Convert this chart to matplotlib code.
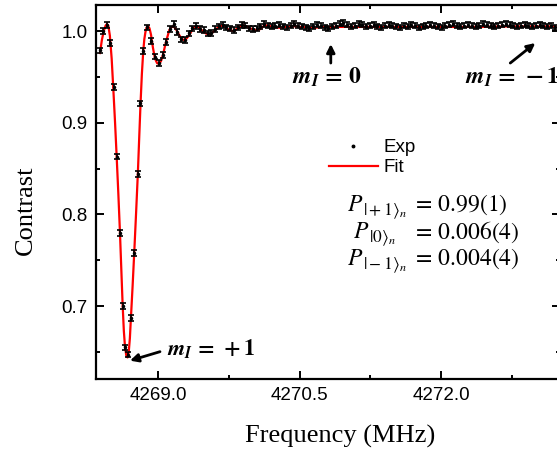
import numpy as np
import matplotlib
matplotlib.use("Agg")
import matplotlib.pyplot as plt
from matplotlib.ticker import MultipleLocator, FormatStrFormatter
from matplotlib.lines import Line2D

plt.rcParams['font.family'] = ['Liberation Sans', 'DejaVu Sans']
plt.rcParams['mathtext.fontset'] = 'stix'

# ---- measured points (Exp) ----
freq_exp = [4268.385, 4268.422, 4268.459, 4268.496, 4268.533, 4268.566, 4268.597, 4268.624,
            4268.648, 4268.677, 4268.711, 4268.748, 4268.784, 4268.814, 4268.846, 4268.885,
            4268.925, 4268.966, 4269.010, 4269.055, 4269.090, 4269.127, 4269.168, 4269.205,
            4269.245, 4269.285, 4269.325, 4269.365, 4269.405, 4269.445, 4269.485, 4269.525,
            4269.565, 4269.605, 4269.645, 4269.685, 4269.725, 4269.765, 4269.805, 4269.845,
            4269.885, 4269.925, 4269.965, 4270.005, 4270.045, 4270.085, 4270.125, 4270.165,
            4270.205, 4270.245,
            4270.285, 4270.325, 4270.365, 4270.405, 4270.445, 4270.485, 4270.525, 4270.565, 4270.605, 4270.645,
            4270.685, 4270.725, 4270.765, 4270.805, 4270.845, 4270.885, 4270.925, 4270.965, 4271.005, 4271.045,
            4271.085, 4271.125, 4271.165, 4271.205, 4271.245, 4271.285, 4271.325, 4271.365, 4271.405, 4271.445,
            4271.485, 4271.525, 4271.565, 4271.605, 4271.645, 4271.685, 4271.725, 4271.765, 4271.805, 4271.845,
            4271.885, 4271.925, 4271.965, 4272.005, 4272.045, 4272.085, 4272.125, 4272.165, 4272.205, 4272.245,
            4272.285, 4272.325, 4272.365, 4272.405, 4272.445, 4272.485, 4272.525, 4272.565, 4272.605, 4272.645,
            4272.685, 4272.725, 4272.765, 4272.805, 4272.845, 4272.885, 4272.925, 4272.965, 4273.005, 4273.045,
            4273.085, 4273.125, 4273.165, 4273.205]
contrast_exp = [0.979, 1.000, 1.0065, 0.987, 0.939, 0.863, 0.780, 0.700,
                0.655, 0.647, 0.687, 0.758, 0.844, 0.921, 0.978, 1.004,
                0.989, 0.972, 0.965, 0.974, 0.988, 1.002, 1.0076, 0.999,
                0.991, 0.9905, 0.9975, 1.003, 1.0055, 1.002, 1.001, 0.9975,
                0.998, 1.002, 1.005, 1.0065, 1.004, 1.003, 1.001, 1.004,
                1.0065, 1.006, 1.003, 1.002, 1.003, 1.005, 1.0076, 1.006,
                1.005, 1.006,
                1.007, 1.005, 1.004, 1.006, 1.008, 1.006, 1.005, 1.004, 1.003, 1.005,
                1.007, 1.006, 1.004, 1.003, 1.005, 1.006, 1.008, 1.009, 1.007, 1.005,
                1.006, 1.008, 1.007, 1.005, 1.006, 1.007, 1.005, 1.004, 1.006, 1.007,
                1.006, 1.005, 1.004, 1.006, 1.005, 1.007, 1.006, 1.004, 1.005, 1.006,
                1.007, 1.006, 1.005, 1.004, 1.006, 1.007, 1.008, 1.006, 1.005, 1.006,
                1.007, 1.006, 1.005, 1.006, 1.008, 1.007, 1.006, 1.005, 1.006, 1.007,
                1.008, 1.007, 1.006, 1.005, 1.006, 1.007, 1.006, 1.005, 1.006, 1.007,
                1.006, 1.005, 1.006, 1.004]
err_exp = 0.003

# ---- fit curve ----
freq_fit = [4268.385, 4268.405, 4268.425, 4268.445, 4268.459, 4268.475, 4268.490, 4268.509,
            4268.530, 4268.545, 4268.562, 4268.580, 4268.597, 4268.612, 4268.625, 4268.638,
            4268.650, 4268.664, 4268.677, 4268.690, 4268.702, 4268.713, 4268.731, 4268.749,
            4268.768, 4268.787, 4268.801, 4268.815, 4268.829, 4268.843, 4268.855, 4268.867,
            4268.880, 4268.894, 4268.910, 4268.926, 4268.946, 4268.968, 4268.990, 4269.014,
            4269.035, 4269.055, 4269.075, 4269.095, 4269.120, 4269.140, 4269.162, 4269.190,
            4269.223, 4269.255, 4269.286, 4269.320, 4269.350, 4269.380, 4269.410, 4269.445,
            4269.480, 4269.515, 4269.551, 4269.585, 4269.615, 4269.650, 4269.689, 4269.715,
            4269.742, 4269.775, 4269.806, 4269.830, 4269.860, 4269.901, 4269.940, 4269.976,
            4270.015, 4270.050, 4270.080, 4270.115, 4270.156, 4270.200, 4270.240, 4270.300,
            4270.360, 4270.420, 4270.500, 4270.580, 4270.660, 4270.750, 4270.850, 4271.000,
            4271.200, 4271.500, 4271.800, 4272.100, 4272.400, 4272.700, 4273.000, 4273.210]
contrast_fit = [0.976, 0.990, 1.000, 1.006, 1.0076, 1.005, 0.995, 0.970,
                0.930, 0.900, 0.863, 0.822, 0.780, 0.738, 0.702, 0.673,
                0.656, 0.646, 0.644, 0.650, 0.665, 0.687, 0.722, 0.760,
                0.802, 0.846, 0.884, 0.921, 0.953, 0.977, 0.991, 0.999,
                1.004, 1.0055, 1.003, 0.996, 0.982, 0.970, 0.965, 0.964,
                0.968, 0.975, 0.984, 0.992, 1.001, 1.004, 1.0055, 1.002,
                0.996, 0.991, 0.990, 0.994, 0.999, 1.004, 1.0055, 1.003,
                0.999, 0.997, 0.9967, 0.999, 1.002, 1.005, 1.0062, 1.004,
                1.002, 1.0005, 1.000, 1.002, 1.005, 1.0062, 1.005, 1.003,
                1.0015, 1.001, 1.002, 1.005, 1.0062, 1.005, 1.004, 1.0035,
                1.0045, 1.0055, 1.0045, 1.004, 1.0035, 1.0045, 1.0045, 1.0045,
                1.0045, 1.0045, 1.0045, 1.0045, 1.0045, 1.005, 1.005, 1.005]

W, H = 557, 459
fig = plt.figure(figsize=(W / 100, H / 100), dpi=100)
ax = fig.add_axes([96 / W, 1 - 379 / H, (560 - 96) / W, (379 - 5) / H])

ax.errorbar(freq_exp, contrast_exp, yerr=err_exp, fmt='o', ms=1.5, color='k',
            ecolor='k', elinewidth=1.2, capsize=2.3, capthick=1.2, zorder=3)
ax.plot(freq_fit, contrast_fit, color='red', lw=1.6, zorder=2)

ax.set_xlim(4268.343, 4273.26)
ax.set_ylim(0.6205, 1.0284)
ax.xaxis.set_major_locator(MultipleLocator(1.5))
ax.xaxis.set_minor_locator(MultipleLocator(0.75))
ax.yaxis.set_major_locator(MultipleLocator(0.1))
ax.yaxis.set_minor_locator(MultipleLocator(0.05))
ax.xaxis.set_major_formatter(FormatStrFormatter('%.1f'))
ax.yaxis.set_major_formatter(FormatStrFormatter('%.1f'))
ax.tick_params(which='both', direction='in', top=True, right=True, width=1.4, labelsize=13.5)
ax.tick_params(which='major', length=5.5, pad=6)
ax.tick_params(which='minor', length=3)
for s in ax.spines.values():
    s.set_linewidth(1.6)

ax.set_xlabel('Frequency (MHz)', family='Liberation Serif', fontsize=19)
ax.set_ylabel('Contrast', family='Liberation Serif', fontsize=19)
ax.xaxis.set_label_coords(0.526, -0.122)
ax.yaxis.set_label_coords(-0.128, 0.45)

# legend
handles = [Line2D([], [], ls='none', marker='o', ms=1.8, color='k'),
           Line2D([], [], color='red', lw=1.6)]
ax.legend(handles, ['Exp', 'Fit'], loc='upper left', bbox_to_anchor=(329 / W, 1 - 139 / H),
          bbox_transform=fig.transFigure, frameon=False, fontsize=13.5, handlelength=2.6,
          handletextpad=0.3, labelspacing=0.15, borderpad=0, borderaxespad=0)

# populations: P, its ket subscript, and the value
p_sub = [r'$|+1\rangle_n$', r'$|0\rangle_n$', r'$|-1\rangle_n$']
p_val = [r'$=\,0.99(1)$', r'$=\,0.006(4)$', r'$=\,0.004(4)$']
p_x = [347, 353, 347]
p_y = [205, 232, 259]
for sub, val, x, y in zip(p_sub, p_val, p_x, p_y):
    fig.text(x / W, 1 - y / H, r'$P$', ha='left', va='center', fontsize=17)
    fig.text((x + 16) / W, 1 - (y + 6) / H, sub, ha='left', va='center', fontsize=12.5)
    fig.text(412 / W, 1 - y / H, val, ha='left', va='center', fontsize=17)

# m_I labels and arrows
arrow = dict(arrowstyle='-|>', lw=2.0, color='k', mutation_scale=12, shrinkA=0, shrinkB=0)
ax.annotate('', xy=(4270.831, 0.9858), xytext=(4270.831, 0.9651), arrowprops=arrow)
ax.annotate('', xy=(4272.998, 0.9869), xytext=(4272.733, 0.9651), arrowprops=arrow)
ax.annotate('', xy=(4268.703, 0.6405), xytext=(4269.021, 0.6503), arrowprops=arrow)
ax.text(4270.792, 0.9498, r'$\mathbfit{m}_{\mathbfit{I}}\,\mathbf{=\,0}$', ha='center', va='center', fontsize=17)
ax.text(4272.256, 0.9498, r'$\mathbfit{m}_{\mathbfit{I}}\,\mathbf{=\,-1}$', ha='left', va='center', fontsize=17)
ax.text(4269.095, 0.6543, r'$\mathbfit{m}_{\mathbfit{I}}\,\mathbf{=\,+1}$', ha='left', va='center', fontsize=16)

fig.savefig('out.png', dpi=100)
